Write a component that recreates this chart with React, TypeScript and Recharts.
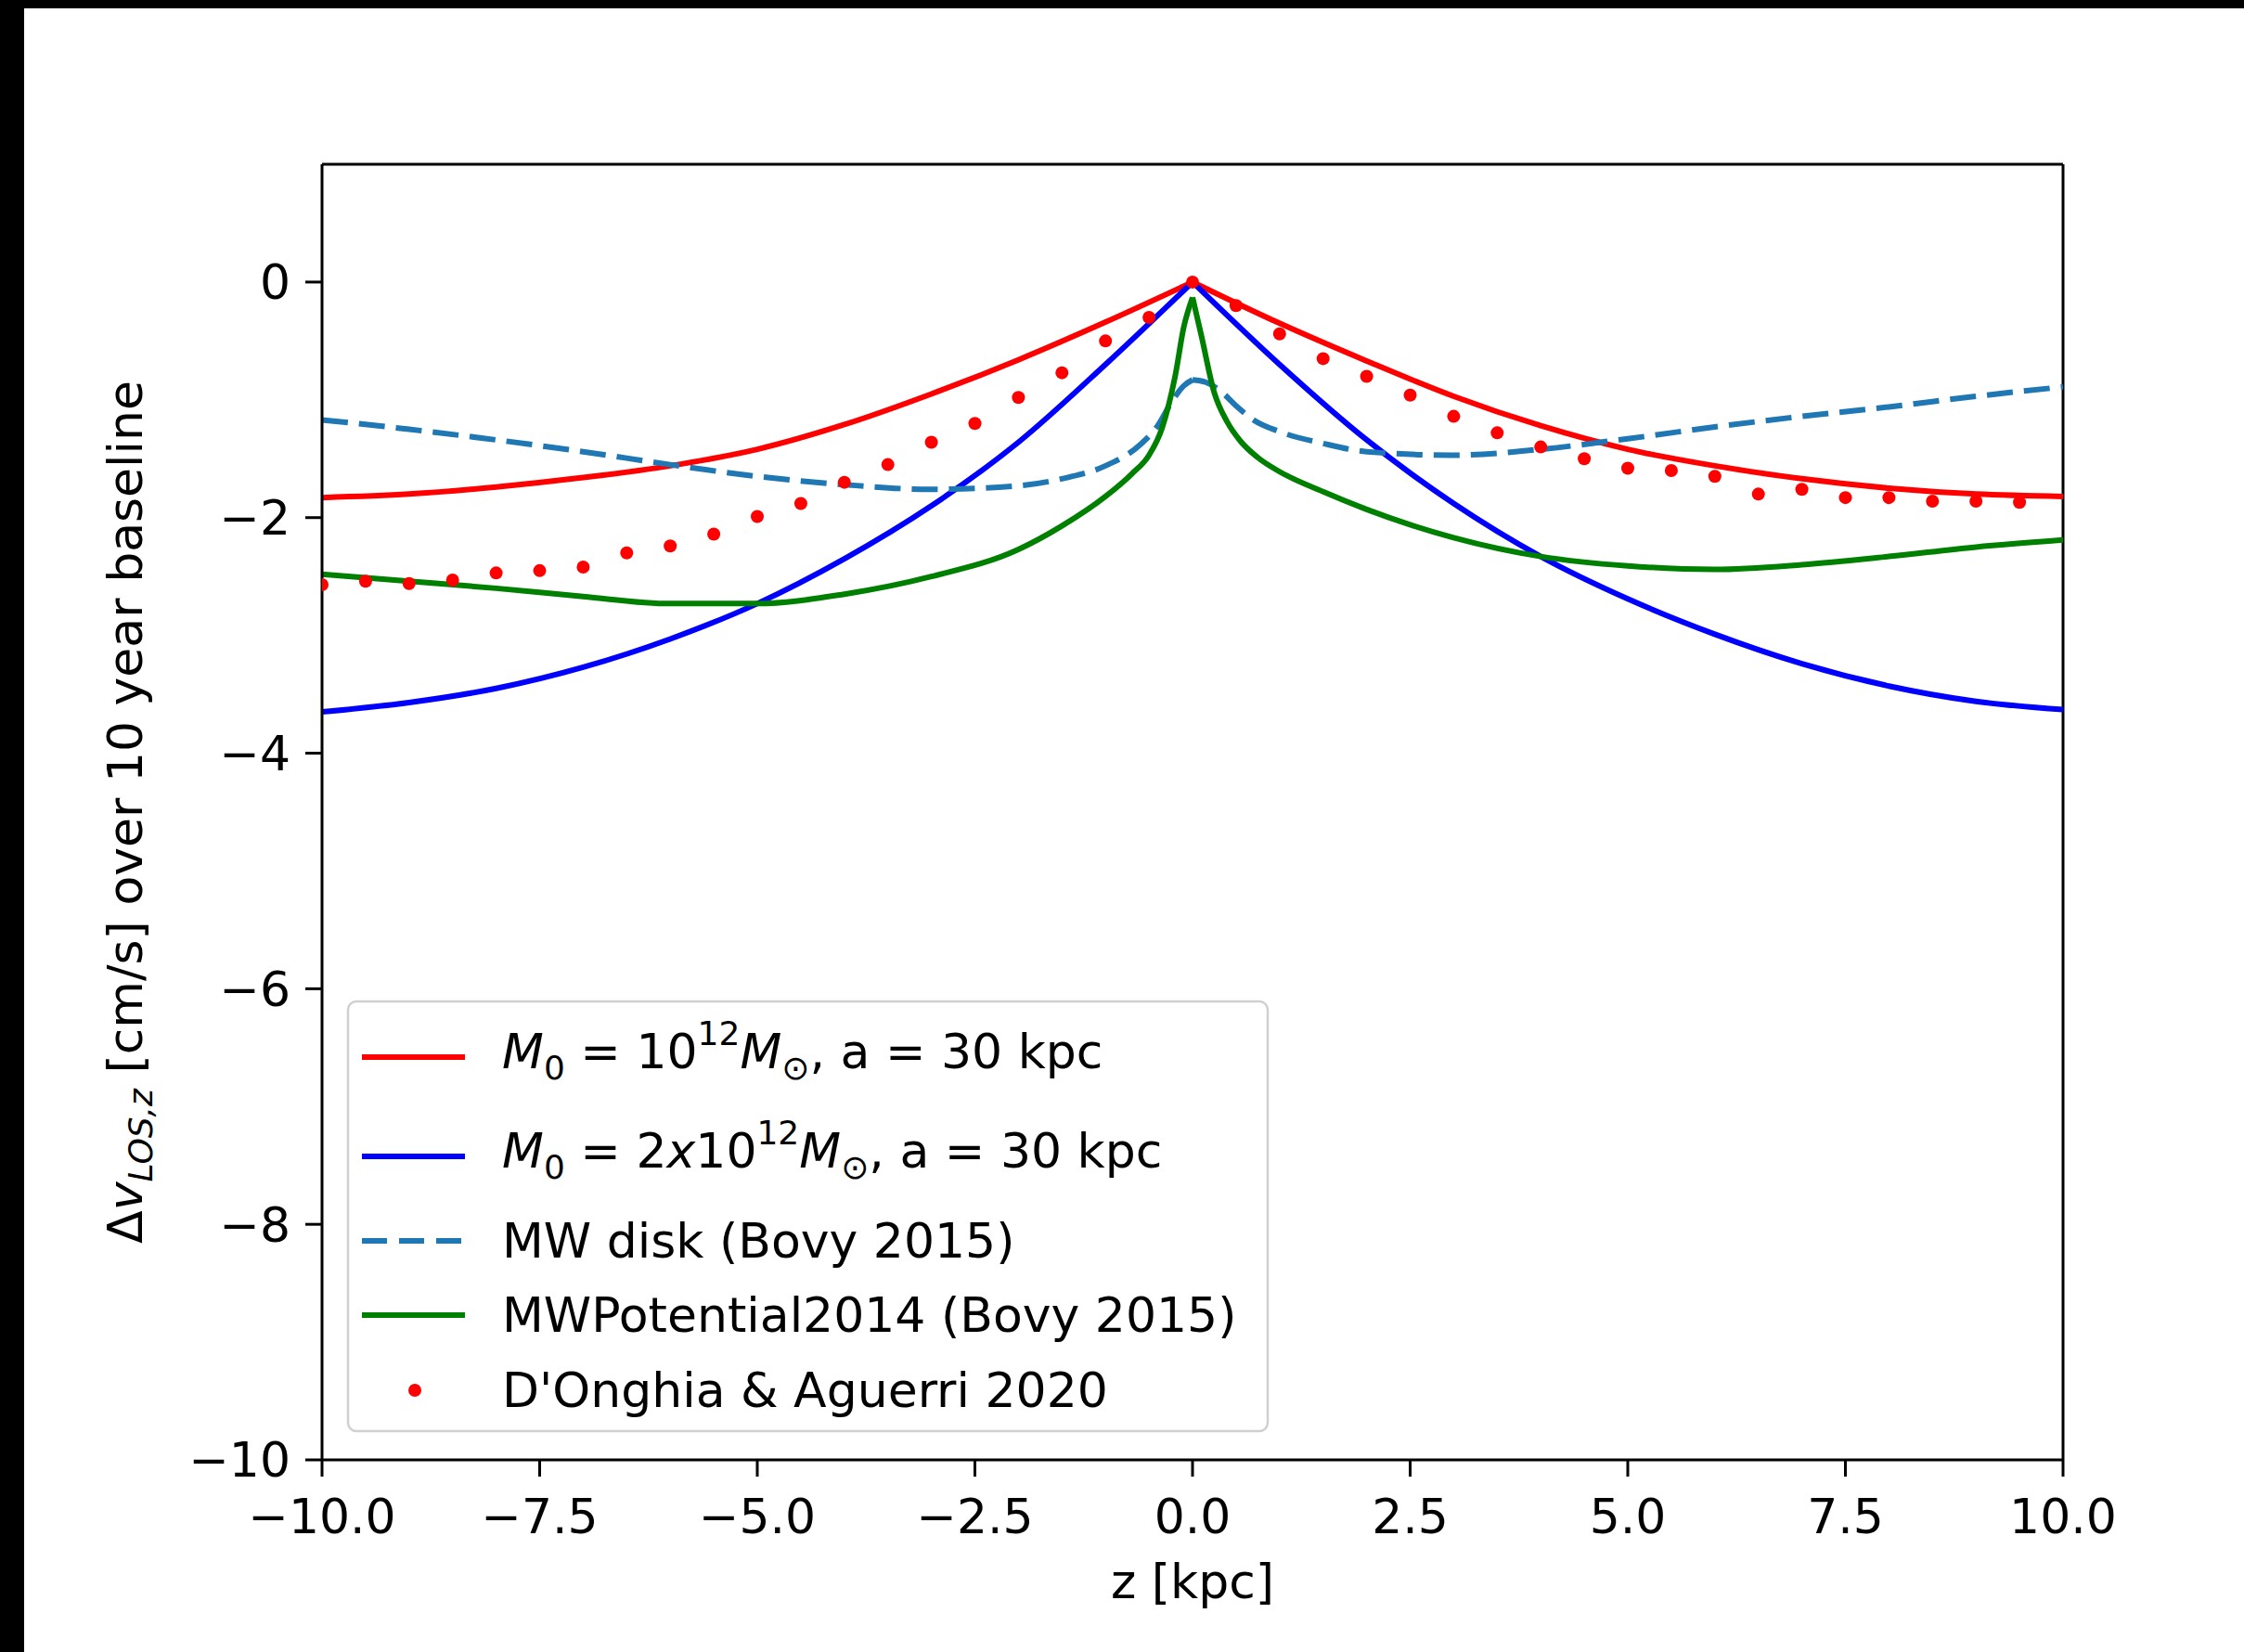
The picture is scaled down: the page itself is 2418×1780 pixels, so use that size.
import { ComposedChart, Line, Scatter, XAxis, YAxis, ReferenceLine, Label } from 'recharts'

type Pt = [number, number]

// z [kpc], delta v [cm/s]
const haloLight: Pt[] = [
  [-10, -1.83], [-9, -1.8], [-8, -1.74], [-7, -1.66], [-6, -1.56], [-5, -1.42], [-4, -1.21],
  [-3, -0.95], [-2, -0.66], [-1, -0.34], [0, 0], [1, -0.35], [2, -0.67], [3, -0.97],
  [4, -1.22], [5, -1.42], [6, -1.56], [7, -1.67], [8, -1.75], [9, -1.8], [10, -1.82],
]

const haloHeavy: Pt[] = [
  [-10, -3.65], [-9, -3.57], [-8, -3.45], [-7, -3.27], [-6, -3.03], [-5, -2.73], [-4, -2.35],
  [-3, -1.9], [-2, -1.36], [-1, -0.7], [0, 0], [1, -0.7], [2, -1.34], [3, -1.88],
  [4, -2.33], [5, -2.69], [6, -2.99], [7, -3.24], [8, -3.43], [9, -3.56], [10, -3.63],
]

const mwDisk: Pt[] = [
  [-10, -1.17], [-9, -1.25], [-8, -1.34], [-7, -1.44], [-6, -1.55], [-5, -1.65], [-4, -1.72],
  [-3, -1.76], [-2, -1.73], [-1.5, -1.67], [-1, -1.56], [-0.6, -1.38], [-0.4, -1.22],
  [-0.25, -1.03], [-0.1, -0.88], [0, -0.83], [0.15, -0.85], [0.33, -0.93], [0.5, -1.05],
  [0.7, -1.17], [1, -1.27], [1.5, -1.37], [2, -1.44], [3, -1.47], [4, -1.42], [5, -1.33],
  [6, -1.23], [7, -1.14], [8, -1.06], [9, -0.97], [10, -0.89],
]

const mwPotential: Pt[] = [
  [-10, -2.48], [-9, -2.54], [-8, -2.6], [-7, -2.67], [-6, -2.73], [-5, -2.73], [-4, -2.65],
  [-3, -2.5], [-2, -2.27], [-1.5, -2.07], [-1, -1.82], [-0.7, -1.63], [-0.5, -1.47],
  [-0.35, -1.24], [-0.2, -0.8], [-0.1, -0.38], [0, -0.13], [0.1, -0.45], [0.25, -0.94],
  [0.4, -1.19], [0.55, -1.35], [0.75, -1.49], [1, -1.61], [1.5, -1.78], [2, -1.93],
  [2.5, -2.06], [3, -2.17], [4, -2.33], [5, -2.41], [6, -2.44], [7, -2.4], [8, -2.33],
  [9, -2.25], [10, -2.19],
]

const dOnghia: Pt[] = [
  [-10, -2.57], [-9.5, -2.54], [-9, -2.56], [-8.5, -2.53], [-8, -2.47], [-7.5, -2.45],
  [-7, -2.42], [-6.5, -2.3], [-6, -2.24], [-5.5, -2.14], [-5, -1.99], [-4.5, -1.88],
  [-4, -1.7], [-3.5, -1.55], [-3, -1.36], [-2.5, -1.2], [-2, -0.98], [-1.5, -0.77],
  [-1, -0.5], [-0.5, -0.3], [0, 0], [0.5, -0.2], [1, -0.44], [1.5, -0.65], [2, -0.8],
  [2.5, -0.96], [3, -1.14], [3.5, -1.28], [4, -1.4], [4.5, -1.5], [5, -1.58], [5.5, -1.6],
  [6, -1.65], [6.5, -1.8], [7, -1.76], [7.5, -1.83], [8, -1.83], [8.5, -1.86], [9, -1.86],
  [9.5, -1.87],
]

const X_TICKS = [-10, -7.5, -5, -2.5, 0, 2.5, 5, 7.5, 10]
const Y_TICKS = [0, -2, -4, -6, -8, -10]
const X_DOMAIN: [number, number] = [-10, 10]
const Y_DOMAIN: [number, number] = [-10, 1]

const RED = '#ff0000'
const BLUE = '#0000ff'
const GREEN = '#008000'
const TAB_BLUE = '#1f77b4'
const DASH = '28 12'
const FONT = '"DejaVu Sans", sans-serif'
const FS = 52
const SUB = 36

const W = 2418
const H = 1780

const curves = [
  { id: 'light', pts: haloLight, color: RED },
  { id: 'heavy', pts: haloHeavy, color: BLUE },
  { id: 'disk', pts: mwDisk, color: TAB_BLUE, dash: DASH },
  { id: 'mwpot', pts: mwPotential, color: GREEN },
]

const rows = (pts: Pt[]) => pts.map(([z, v]) => ({ z, v }))
// each curve has a cusp at z = 0, so the two halves are smoothed separately
const halves = (pts: Pt[]) => [rows(pts.filter(p => p[0] <= 0)), rows(pts.filter(p => p[0] >= 0))]

const minus = (s: string) => s.replace('-', '\u2212')

const axisStroke = { stroke: '#000', strokeWidth: 3 }
const tickStyle = { fill: '#000', fontSize: FS, fontFamily: FONT }

const XTitle = () => (
  <text x={1285} y={1722} textAnchor="middle" fontSize={FS} fontFamily={FONT} fill="#000">
    z [kpc]
  </text>
)

const YTitle = () => {
  const bx = 153
  const cy = 875
  return (
    <text
      x={bx}
      y={cy}
      transform={`rotate(-90, ${bx}, ${cy})`}
      textAnchor="middle"
      fontSize={FS}
      fontFamily={FONT}
      fill="#000"
      style={{ whiteSpace: 'pre' }}
    >
      <tspan>Δ</tspan>
      <tspan fontStyle="italic">v</tspan>
      <tspan fontStyle="italic" fontSize={SUB} dy={11}>LOS,z</tspan>
      <tspan dy={-11}>{' [cm/s] over 10 year baseline'}</tspan>
    </text>
  )
}

const MassLabel = ({ y, prefix }: { y: number; prefix: string }) => (
  <text x={541} y={y} fontSize={FS} fontFamily={FONT} fill="#000" style={{ whiteSpace: 'pre' }}>
    <tspan fontStyle="italic">M</tspan>
    <tspan fontSize={SUB} dy={12}>0</tspan>
    <tspan dy={-12}>{' = '}</tspan>
    {prefix && <tspan>{prefix}</tspan>}
    {prefix && <tspan fontStyle="italic">x</tspan>}
    <tspan>10</tspan>
    <tspan fontSize={SUB} dy={-25}>12</tspan>
    <tspan fontStyle="italic" dy={25}>M</tspan>
    <tspan fontSize={SUB} dy={12}>⊙</tspan>
    <tspan dy={-12}>{', a = 30 kpc'}</tspan>
  </text>
)

function LegendBox() {
  const hx1 = 390
  const hx2 = 501
  return (
    <svg width={W} height={H} style={{ position: 'absolute', left: 0, top: 0, pointerEvents: 'none' }}>
      <rect x={375} y={1079} width={991} height={463} rx={9} fill="#fff" fillOpacity={0.8} stroke="#d0d0d0" strokeWidth={2.5} />
      <line x1={hx1} x2={hx2} y1={1139} y2={1139} stroke={RED} strokeWidth={6} />
      <MassLabel y={1151} prefix="" />
      <line x1={hx1} x2={hx2} y1={1246} y2={1246} stroke={BLUE} strokeWidth={6} />
      <MassLabel y={1258} prefix="2" />
      <line x1={hx1} x2={hx2} y1={1337} y2={1337} stroke={TAB_BLUE} strokeWidth={6} strokeDasharray="27 13" />
      <text x={541} y={1355} fontSize={FS} fontFamily={FONT} fill="#000">MW disk (Bovy 2015)</text>
      <line x1={hx1} x2={hx2} y1={1417} y2={1417} stroke={GREEN} strokeWidth={6} />
      <text x={541} y={1435} fontSize={FS} fontFamily={FONT} fill="#000">MWPotential2014 (Bovy 2015)</text>
      <circle cx={447} cy={1498} r={7} fill={RED} />
      <text x={541} y={1516} fontSize={FS} fontFamily={FONT} fill="#000">D'Onghia &amp; Aguerri 2020</text>
    </svg>
  )
}

export default function App() {
  return (
    <div style={{ position: 'absolute', left: 0, top: 0, width: W, height: H, background: '#fff', overflow: 'hidden' }}>
      <ComposedChart width={W} height={H} margin={{ top: 177, right: 195, bottom: 47, left: 247 }}>
        <XAxis
          dataKey="z"
          type="number"
          domain={X_DOMAIN}
          ticks={X_TICKS}
          interval={0}
          allowDataOverflow
          height={160}
          tickSize={18}
          tickMargin={24}
          axisLine={axisStroke}
          tickLine={axisStroke}
          tick={tickStyle}
          tickFormatter={(v: number) => minus(v.toFixed(1))}
        >
          <Label content={<XTitle />} />
        </XAxis>
        <YAxis
          type="number"
          domain={Y_DOMAIN}
          ticks={Y_TICKS}
          interval={0}
          allowDataOverflow
          width={100}
          tickSize={18}
          tickMargin={16}
          axisLine={axisStroke}
          tickLine={axisStroke}
          tick={tickStyle}
          tickFormatter={(v: number) => minus(String(v))}
        >
          <Label content={<YTitle />} />
        </YAxis>
        <ReferenceLine y={Y_DOMAIN[1]} stroke="#000" strokeWidth={3} />
        <ReferenceLine x={X_DOMAIN[1]} stroke="#000" strokeWidth={3} />
        {curves.flatMap(c =>
          halves(c.pts).map((data, i) => (
            <Line
              key={`${c.id}-${i}`}
              data={data}
              dataKey="v"
              type="monotone"
              stroke={c.color}
              strokeWidth={6}
              strokeDasharray={c.dash}
              dot={false}
              activeDot={false}
              isAnimationActive={false}
            />
          ))
        )}
        <Scatter
          data={rows(dOnghia)}
          dataKey="v"
          fill={RED}
          isAnimationActive={false}
          shape={(p: any) => <circle cx={p.cx} cy={p.cy} r={7} fill={RED} />}
        />
      </ComposedChart>
      <LegendBox />
      {/* black screenshot edges */}
      <div style={{ position: 'absolute', left: 0, top: 0, width: W, height: 9, background: '#000' }} />
      <div style={{ position: 'absolute', left: 0, top: 0, width: 26, height: H, background: '#000' }} />
    </div>
  )
}
